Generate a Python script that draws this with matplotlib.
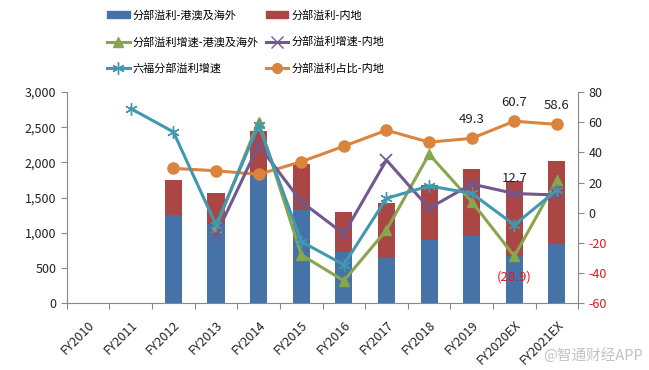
import numpy as np
import matplotlib
matplotlib.use("Agg")
import matplotlib.pyplot as plt
from matplotlib.patches import Patch
from matplotlib.lines import Line2D

plt.rcParams["font.family"] = ["Noto Sans CJK SC", "DejaVu Sans"]

years = ["FY2010", "FY2011", "FY2012", "FY2013", "FY2014", "FY2015", "FY2016",
         "FY2017", "FY2018", "FY2019", "FY2020EX", "FY2021EX"]
nan = np.nan
# segment profit (HK$ m)
profit_hk = [nan, nan, 1250, 1130, 1810, 1320, 730, 645, 890, 960, 670, 835]
profit_total = [nan, nan, 1750, 1560, 2440, 1980, 1300, 1420, 1680, 1900, 1740, 2020]
profit_cn = [t - h for t, h in zip(profit_total, profit_hk)]
# growth rates / share (%)
growth_hk = [nan, nan, nan, -9.3, 60.5, -28.0, -45.2, -11.5, 38.8, 7.3, -28.9, 21.6]
growth_cn = [nan, nan, nan, -14.8, 44.8, 7.3, -14.1, 34.9, 2.9, 19.0, 12.7, 11.7]
growth_all = [nan, 69.1, 53.6, -8.1, 58.0, -19.2, -34.6, 9.5, 17.7, 12.8, -8.1, 15.0]
share_cn = [nan, nan, 29.4, 27.8, 25.4, 33.8, 44.1, 54.7, 46.8, 49.3, 60.7, 58.6]

c_blue = "#4572A7"
c_red = "#AA4643"
c_green = "#89A54E"
c_purple = "#71588F"
c_teal = "#4198AF"
c_orange = "#DB843D"
c_axis = "#888888"

fig = plt.figure(figsize=(6.49, 3.70), dpi=100)
ax = fig.add_axes([0.103, 0.181, 0.788, 0.570])
ax2 = ax.twinx()

x = np.arange(len(years))
ax.bar(x, profit_hk, width=0.4, color=c_blue, zorder=2)
ax.bar(x, profit_cn, width=0.4, bottom=profit_hk, color=c_red, zorder=2)

lw = 2.2
ax2.plot(x, share_cn, color=c_orange, lw=lw, marker="o", ms=8, zorder=3)
ax2.plot(x, growth_hk, color=c_green, lw=lw, marker="^", ms=7, zorder=4)
ax2.plot(x, growth_cn, color=c_purple, lw=lw, marker="x", ms=8, mew=1.2, zorder=4)
ax2.plot(x, growth_all, color=c_teal, lw=lw, marker=(6, 2, 0), ms=9, mew=1.0, zorder=5)

ax.set_xlim(-0.5, len(years) - 0.5)
ax.set_ylim(0, 3000)
ax.set_yticks(range(0, 3001, 500))
ax.set_yticklabels([f"{v:,}" for v in range(0, 3001, 500)], fontsize=9, color="#222222")
ax2.set_ylim(-60, 80)
rticks = list(range(-60, 81, 20))
ax2.set_yticks(rticks)
ax2.set_yticklabels([str(v) for v in rticks], fontsize=9)
for lab, v in zip(ax2.get_yticklabels(), rticks):
    lab.set_color("#E8141E" if v < 0 else "#222222")

# ticks sit between categories, labels at category centres
ax.set_xticks(np.arange(-0.5, len(years), 1))
ax.set_xticklabels([])
ax.set_xticks(x, minor=True)
ax.set_xticklabels(years, minor=True, rotation=45, ha="right", va="top",
                   rotation_mode="anchor", fontsize=9, color="#222222")
ax.tick_params(axis="x", which="minor", length=0, pad=11)
ax.tick_params(axis="x", which="major", length=4, color=c_axis, direction="out")
ax.tick_params(axis="y", length=4, color=c_axis)
ax2.tick_params(axis="y", length=4, color=c_axis)

for a in (ax, ax2):
    a.spines["top"].set_visible(False)
    for s in ("left", "right", "bottom"):
        a.spines[s].set_color(c_axis)
ax.spines["right"].set_visible(False)
ax2.spines["left"].set_visible(False)
ax2.spines["bottom"].set_visible(False)

# data labels
for i in (9, 10, 11):
    ax2.annotate(f"{share_cn[i]:.1f}", (x[i], share_cn[i]), xytext=(0, 9),
                 textcoords="offset points", ha="center", va="bottom", fontsize=9.5, color="#222222")
ax2.annotate(f"{growth_cn[10]:.1f}", (x[10], growth_cn[10]), xytext=(0, 6),
             textcoords="offset points", ha="center", va="bottom", fontsize=9.5, color="#222222")
ax2.annotate(f"({abs(growth_hk[10]):.1f})", (x[10], growth_hk[10]), xytext=(0, -10),
             textcoords="offset points", ha="center", va="top", fontsize=9.5, color="#E8141E")

handles = [
    Patch(color=c_blue, label="分部溢利-港澳及海外"),
    Line2D([], [], color=c_green, lw=lw, marker="^", ms=7, label="分部溢利增速-港澳及海外"),
    Line2D([], [], color=c_teal, lw=lw, marker=(6, 2, 0), ms=9, label="六福分部溢利增速"),
    Patch(color=c_red, label="分部溢利-内地"),
    Line2D([], [], color=c_purple, lw=lw, marker="x", ms=8, label="分部溢利增速-内地"),
    Line2D([], [], color=c_orange, lw=lw, marker="o", ms=7, label="分部溢利占比-内地"),
]
fig.legend(handles=handles, ncol=2, loc="upper left", bbox_to_anchor=(0.15, 1.0),
           frameon=False, fontsize=8, handlelength=2.0, handleheight=0.6,
           columnspacing=0.6, handletextpad=0.3, labelspacing=1.4)

fig.text(0.99, 0.02, "@智通财经APP", ha="right", va="bottom", fontsize=10.5,
         color="#BBBBBB", alpha=0.9)

fig.savefig("out.png", dpi=100)
